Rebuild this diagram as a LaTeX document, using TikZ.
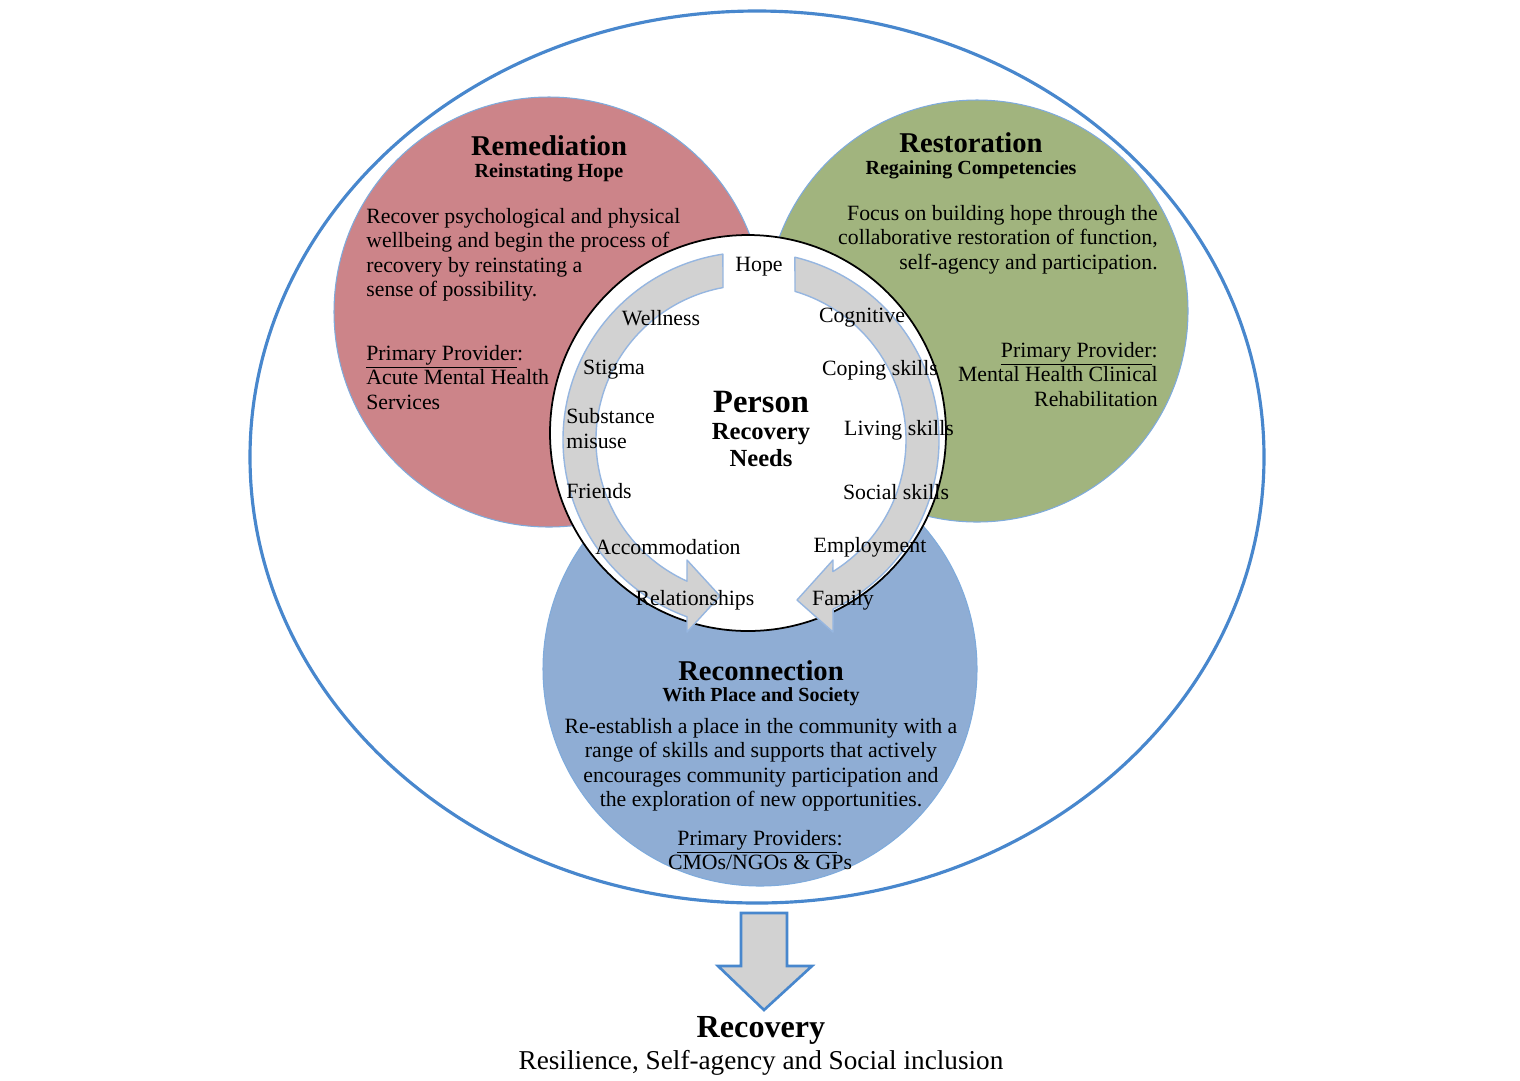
\documentclass[tikz,border=0pt]{standalone}
\usepackage{fontspec}
\setmainfont{Liberation Serif}
\definecolor{remred}{RGB}{204,132,137}
\definecolor{resgreen}{RGB}{161,180,126}
\definecolor{recblue}{RGB}{143,173,212}
\definecolor{edgeblue}{RGB}{72,135,205}
\definecolor{arrgray}{RGB}{210,210,210}
\definecolor{arredge}{RGB}{150,182,224}

\begin{document}
\begin{tikzpicture}[x=0.02cm, y=-0.02cm,
  phase/.style={draw=edgeblue!70, line width=0.6pt},
  ttl/.style={font=\fontsize{16.3}{18}\selectfont\bfseries, inner sep=0pt},
  subttl/.style={font=\fontsize{11.4}{13}\selectfont\bfseries, inner sep=0pt},
  body/.style={font=\fontsize{12.4}{13.9}\selectfont, inner sep=0pt},
  need/.style={font=\fontsize{12.4}{14}\selectfont, inner sep=0pt},
  loop arrow/.style={fill=arrgray, draw=arredge, line width=0.8pt, line join=round}]
\useasboundingbox (0,0) rectangle (1520,1080);

% the three phases
\draw[phase, fill=remred] (549,312) circle (215);
\draw[phase, fill=resgreen] (977,311) circle (211);
\draw[phase, fill=recblue] (760,669) circle (217);
\draw[fill=white, line width=1pt] (748,433) circle (198);

% arrows round the person
\coordinate (hub) at (751,440);
\draw[loop arrow] ([shift={(hub)}]261.4:188) arc[start angle=261.4, end angle=109.9, radius=188]
  -- (687,632) -- (720,596) -- (687,560)
  -- ([shift={(hub)}]114.4:155) arc[start angle=114.4, end angle=259.6, radius=155] -- cycle;
\draw[loop arrow] ([shift={(hub)}]283.5:188) arc[start angle=283.5, end angle=424.1, radius=188]
  -- (833,632) -- (797,600) -- (833,560)
  -- ([shift={(hub)}]58.1:155) arc[start angle=418.1, end angle=286.5, radius=155] -- cycle;

% Remediation
\node[ttl] (remTitle) at (549,146) {Remediation};
\node[subttl] (remSub) at (549,173) {Reinstating Hope};
\node[body, align=left, anchor=north west] (remText) at (366,208) {Recover psychological and physical\\wellbeing and begin the process of\\recovery by reinstating a\\sense of possibility.};
\node[body, align=left, anchor=north west] (remProv) at (366,345) {\underline{Primary Provider}:\\Acute Mental Health\\Services};

% Restoration
\node[ttl] (resTitle) at (971,143) {Restoration};
\node[subttl] (resSub) at (971,170) {Regaining Competencies};
\node[body, align=right, anchor=north east] (resText) at (1158,205) {Focus on building hope through the\\collaborative restoration of function,\\self-agency and participation.};
\node[body, align=right, anchor=north east] (resProv) at (1158,342) {\underline{Primary Provider}:\\Mental Health Clinical\\Rehabilitation};

% Reconnection
\node[ttl] (recTitle) at (761,671) {Reconnection};
\node[subttl] (recSub) at (761,697) {With Place and Society};
\node[body, align=center, anchor=north] (recText) at (761,718) {Re-establish a place in the community with a\\range of skills and supports that actively\\encourages community participation and\\the exploration of new opportunities.};
\node[body, align=center, anchor=north] (recProv) at (760,830) {\underline{Primary Providers}:\\CMOs/NGOs \& GPs};

% person and needs
\node[font=\fontsize{18.5}{20}\selectfont\bfseries, inner sep=0pt] (person) at (761,402) {Person};
\node[font=\fontsize{14}{15.2}\selectfont\bfseries, align=center, anchor=north, inner sep=0pt] (needs) at (761,423) {Recovery\\Needs};
\node[need] (hope) at (759,267) {Hope};
\node[need] (wellness) at (661,318) {Wellness};
\node[need] (cognitive) at (862,318) {Cognitive};
\node[need] (stigma) at (614,370) {Stigma};
\node[need] (coping) at (880,370) {Coping skills};
\node[need, align=left, anchor=north west] (substance) at (566,408) {Substance\\misuse};
\node[need] (living) at (899,430) {Living skills};
\node[need, anchor=west] (friends) at (566,491) {Friends};
\node[need] (social) at (896,492) {Social skills};
\node[need] (accom) at (668,547) {Accommodation};
\node[need] (employ) at (870,547) {Employment};
\node[need] (relations) at (695,600) {Relationships};
\node[need] (family) at (843,600) {Family};

% whole service
\draw[edgeblue, line width=1.8pt] (757,457) ellipse (507 and 446);

% outcome
\coordinate (down) at (764,913);
\draw[fill=arrgray, draw=edgeblue, line width=1.5pt, line join=miter]
  ([shift={(-23,0)}]down) -- ([shift={(23,0)}]down) -- ([shift={(23,53)}]down) -- ([shift={(48,53)}]down)
  -- ([shift={(0,97)}]down) -- ([shift={(-46,53)}]down) -- ([shift={(-23,53)}]down) -- cycle;
\node[font=\fontsize{18.3}{20}\selectfont\bfseries, inner sep=0pt] (recovery) at (761,1030) {Recovery};
\node[font=\fontsize{15.5}{17}\selectfont, inner sep=0pt] (outcome) at (761,1063) {Resilience, Self-agency and Social inclusion};
\end{tikzpicture}
\end{document}
